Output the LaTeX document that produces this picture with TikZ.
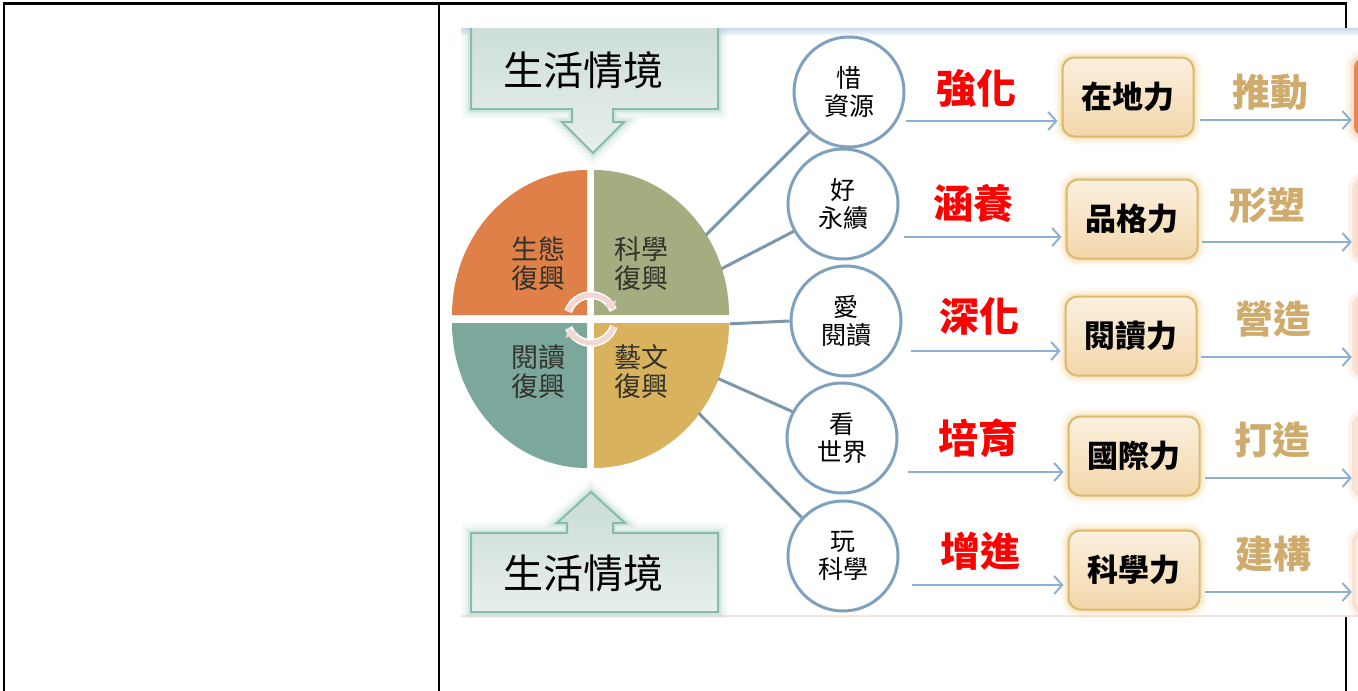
\documentclass[tikz,border=0pt]{standalone}
\usepackage{fontspec}
\setmainfont{Noto Sans CJK TC}
\usetikzlibrary{arrows.meta,calc,shapes.geometric}
\definecolor{qorange}{HTML}{DE8048}
\definecolor{qolive}{HTML}{A3AD80}
\definecolor{qteal}{HTML}{7BA79C}
\definecolor{qgold}{HTML}{D8B25C}
\definecolor{piet}{HTML}{33332B}
\definecolor{linkc}{HTML}{7C96AC}
\definecolor{circc}{HTML}{7FA0BE}
\definecolor{arrc}{HTML}{8DB0D2}
\definecolor{verbred}{HTML}{FF0000}
\definecolor{verbgold}{HTML}{CFAB6D}
\definecolor{boxtop}{HTML}{FBF0DF}
\definecolor{boxbot}{HTML}{F3D7AB}
\definecolor{boxedge}{HTML}{DDB86E}
\definecolor{boxglow}{HTML}{F0CF85}
\definecolor{ctxtop}{HTML}{C9DCD5}
\definecolor{ctxbot}{HTML}{E8EFED}
\definecolor{ctxedge}{HTML}{86BBAD}
\definecolor{ctxglow}{HTML}{A8D2C6}
\definecolor{rorange}{HTML}{E8874A}
\definecolor{rglow}{HTML}{F6C3A0}
\definecolor{imgtop}{HTML}{C6D8EA}
\definecolor{imgbot}{HTML}{F8E4DE}
\definecolor{cyc}{HTML}{F2D6D1}
\begin{document}
\begin{tikzpicture}[x=1pt,y=1pt,
  tbl/.style={line width=2.8pt, draw=black},
  pietxt/.style={font=\fontsize{27}{29}\selectfont, text=piet, align=center},
  link/.style={draw=linkc, line width=3pt},
  smallc/.style={circle, draw=circc, line width=3pt, fill=white, minimum size=110pt, inner sep=0pt, align=center, font=\fontsize{25}{28}\selectfont},
  arr/.style={draw=arrc, line width=2pt, -{Straight Barb[length=8pt,width=18pt]}},
  verbR/.style={font=\fontsize{40}{40}\selectfont\bfseries, text=verbred},
  verbG/.style={font=\fontsize{38}{38}\selectfont\bfseries, text=verbgold},
  glowB/.style={preaction={draw=boxglow, draw opacity=0.12, line width=16pt},
                preaction={draw=boxglow, draw opacity=0.18, line width=10pt},
                preaction={draw=boxglow, draw opacity=0.3, line width=5pt}},
  glowT/.style={preaction={draw=ctxglow, draw opacity=0.12, line width=18pt},
                preaction={draw=ctxglow, draw opacity=0.18, line width=11pt},
                preaction={draw=ctxglow, draw opacity=0.3, line width=6pt}},
  glowR/.style={preaction={draw=rglow, draw opacity=0.2, line width=16pt},
                preaction={draw=rglow, draw opacity=0.35, line width=8pt}},
  powbox/.style={rectangle, rounded corners=12pt, draw=boxedge, line width=2pt,
                 top color=boxtop, bottom color=boxbot, minimum width=131pt,
                 minimum height=79pt, font=\fontsize{31}{31}\selectfont\bfseries, glowB},
  rbox/.style={rectangle, rounded corners=8pt, fill=rorange, minimum width=52pt, minimum height=76pt, glowR},
  ctxshape/.style={draw=ctxedge, line width=2pt, top color=ctxtop, bottom color=ctxbot, glowT},
  ctxtxt/.style={font=\fontsize{40}{40}\selectfont, text=black},
  cyca/.style={draw=cyc, line width=5pt, -{Triangle[length=8pt,width=13pt]}},
  cycw/.style={draw=white, line width=8pt}
]
\useasboundingbox (0,0) rectangle (1358,-691);
% table lines
\draw[tbl] (4,-691) -- (4,-3.5) -- (1346,-3.5) -- (1346,-691);
\draw[tbl] (439,-3.5) -- (439,-691);
% picture background
\fill[white] (461,-28) rectangle (1358,-617);
\shade[top color=imgtop, bottom color=white] (461,-28) rectangle (1358,-36);
\fill[imgbot] (461,-614.5) rectangle (1358,-617);

\begin{scope}
\clip (461,-28) rectangle (1358,-617);
% right cut-off orange boxes
\node[rbox] (r1) at (1380,-97) {};
\node[rbox, fill=rorange!30] (r2) at (1382,-219) {};
\node[rbox, fill=rorange!30] (r3) at (1382,-336) {};
\node[rbox, fill=rorange!22] (r4) at (1382,-456) {};
\node[rbox, fill=rorange!15] (r5) at (1382,-572) {};
% context boxes
\path[ctxshape] (471,-10) -- (471,-109) -- (572,-109) -- (572,-122) -- (562,-122) -- (593,-153)
  -- (624,-122) -- (613,-122) -- (613,-109) -- (718,-109) -- (718,-10) -- cycle;
\path[ctxshape] (471,-612) -- (471,-533) -- (567,-533) -- (567,-523) -- (557,-523) -- (591,-492)
  -- (625,-523) -- (613,-523) -- (613,-533) -- (718,-533) -- (718,-612) -- cycle;
\end{scope}
\node[ctxtxt] (ctx1) at (583,-70) {生活情境};
\node[ctxtxt] (ctx2) at (583,-573) {生活情境};

% pie
\node[ellipse, minimum width=278pt, minimum height=300pt, inner sep=0pt] (pie) at (590.5,-319) {};
\fill[qorange] (587,-315) -- ++(-135,0) arc[start angle=180, end angle=90, x radius=135pt, y radius=145pt] -- cycle;
\fill[qolive] (594,-315) -- ++(0,145) arc[start angle=90, end angle=0, x radius=135pt, y radius=145pt] -- cycle;
\fill[qgold] (594,-323) -- ++(135,0) arc[start angle=0, end angle=-90, x radius=135pt, y radius=145pt] -- cycle;
\fill[qteal] (587,-323) -- ++(0,-145) arc[start angle=-90, end angle=-180, x radius=135pt, y radius=145pt] -- cycle;
\node[pietxt] (p1) at (538,-264) {生態\\復興};
\node[pietxt] (p2) at (641,-264) {科學\\復興};
\node[pietxt] (p3) at (538,-372) {閱讀\\復興};
\node[pietxt] (p4) at (641,-372) {藝文\\復興};
% cycle arrows
\draw[cycw] ($(591,-319)+(162:24)$) arc[start angle=162, end angle=22, radius=24pt];
\draw[cyca] ($(591,-319)+(162:24)$) arc[start angle=162, end angle=22, radius=24pt];
\draw[cycw] ($(591,-319)+(-18:24)$) arc[start angle=-18, end angle=-158, radius=24pt];
\draw[cyca] ($(591,-319)+(-18:24)$) arc[start angle=-18, end angle=-158, radius=24pt];

% small circles
\node[smallc] (c1) at (849,-92) {惜\\資源};
\node[smallc] (c2) at (843,-204) {好\\永續};
\node[smallc] (c3) at (846,-321) {愛\\閱讀};
\node[smallc] (c4) at (842,-438) {看\\世界};
\node[smallc] (c5) at (843,-556) {玩\\科學};
% links
\draw[link] (pie.36) -- (c1.225);
\draw[link] (pie.21) -- (c2.209);
\draw[link] (pie.-2) -- (c3.180);
\draw[link] (pie.-25) -- (c4.152);
\draw[link] (pie.-41) -- (c5.137);

% verbs
\node[verbR] (v1) at (976,-88) {強化};
\node[verbR] (v2) at (973,-203) {涵養};
\node[verbR] (v3) at (979,-316) {深化};
\node[verbR] (v4) at (978,-438) {培育};
\node[verbR] (v5) at (980,-551) {增進};
\node[verbG] (g1) at (1270,-92) {推動};
\node[verbG] (g2) at (1267,-205) {形塑};
\node[verbG] (g3) at (1273,-319) {營造};
\node[verbG] (g4) at (1272,-440) {打造};
\node[verbG] (g5) at (1273,-554) {建構};

% power boxes
\node[powbox] (b1) at (1128,-97) {在地力};
\node[powbox] (b2) at (1132,-219) {品格力};
\node[powbox] (b3) at (1131,-336) {閱讀力};
\node[powbox] (b4) at (1134,-456) {國際力};
\node[powbox] (b5) at (1134,-570) {科學力};

% arrows
\coordinate (a1) at (906,-121);
\coordinate (a2) at (904,-237);
\coordinate (a3) at (911,-351);
\coordinate (a4) at (908,-472);
\coordinate (a5) at (912,-585);
\draw[arr, shorten >=4pt] (a1) -- (a1 -| b1.west);
\draw[arr, shorten >=4pt] (a2) -- (a2 -| b2.west);
\draw[arr, shorten >=4pt] (a3) -- (a3 -| b3.west);
\draw[arr, shorten >=4pt] (a4) -- (a4 -| b4.west);
\draw[arr, shorten >=4pt] (a5) -- (a5 -| b5.west);
\coordinate (o1) at (1200,-120);
\coordinate (o2) at (1202,-242);
\coordinate (o3) at (1201,-357);
\coordinate (o4) at (1205,-478);
\coordinate (o5) at (1205,-592);
\draw[arr, shorten >=2pt] (o1) -- (o1 -| r1.west);
\draw[arr, shorten >=4pt] (o2) -- (o2 -| r2.west);
\draw[arr, shorten >=4pt] (o3) -- (o3 -| r3.west);
\draw[arr, shorten >=4pt] (o4) -- (o4 -| r4.west);
\draw[arr, shorten >=4pt] (o5) -- (o5 -| r5.west);
\end{tikzpicture}
\end{document}
